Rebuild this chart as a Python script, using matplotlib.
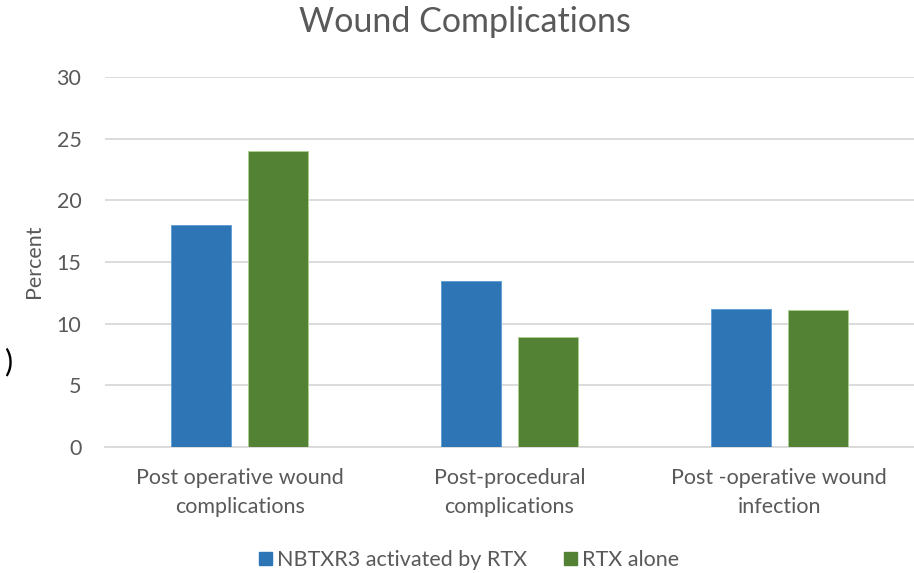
import numpy as np
import matplotlib.pyplot as plt
from matplotlib.patches import Patch

categories = ["Post operative wound\ncomplications", "Post-procedural\ncomplications", "Post -operative wound\ninfection"]
series_names = ["NBTXR3 activated by RTX", "RTX alone"]
nbtxr3 = [18.0, 13.5, 11.2]
rtx = [24.0, 8.9, 11.1]
yticks = [0, 5, 10, 15, 20, 25, 30]

blue = "#2E75B6"
green = "#548235"
gray = "#595959"

plt.rcParams['font.family'] = ['Lato', 'DejaVu Sans']

fig = plt.figure(figsize=(9.14, 5.73), dpi=100)
ax = fig.add_axes([105/914, 1-447/573, 809/914, (447-77)/573])

x = np.arange(len(categories))
w = 0.222
off = 0.143
ax.bar(x - off, nbtxr3, w, color=blue, edgecolor="#5B9BD5", linewidth=0.6, zorder=3)
ax.bar(x + off, rtx, w, color=green, edgecolor="#A9D18E", linewidth=0.6, zorder=3)

ax.set_xlim(-0.5, len(categories) - 0.5)
ax.set_ylim(0, 30)
ax.set_yticks(yticks)
ax.set_yticklabels([str(t) for t in yticks], fontsize=15.5, color=gray)
ax.set_xticks(x)
ax.set_xticklabels(categories, fontsize=15.5, color=gray, linespacing=1.6)
ax.tick_params(axis='both', length=0)
ax.tick_params(axis='x', pad=15)
ax.tick_params(axis='y', pad=17)
ax.grid(axis='y', color="#D9D9D9", linewidth=1.3, zorder=0)
for s in ["top", "right", "left"]:
    ax.spines[s].set_visible(False)
ax.spines["bottom"].set_color("#D9D9D9")
ax.spines["bottom"].set_linewidth(1.3)

fig.text(465/914, 1-22/573, "Wound Complications", fontsize=24.5, color=gray, ha='center', va='center')
fig.text(34/914, 1-261/573, "Percent", fontsize=15.5, color=gray, rotation=90, ha='center', va='center')
fig.text(8/914, 1-362/573, ")", fontsize=22, color="black", ha='center', va='center')

handles = [Patch(color=blue), Patch(color=green)]
fig.legend(handles, series_names, loc='center', bbox_to_anchor=(469/914, 1-560/573), ncol=2,
           frameon=False, fontsize=15.5, labelcolor=gray, handlelength=0.6, handleheight=0.6,
           handletextpad=0.25, columnspacing=1.7)

plt.savefig('out.png', dpi=100)
